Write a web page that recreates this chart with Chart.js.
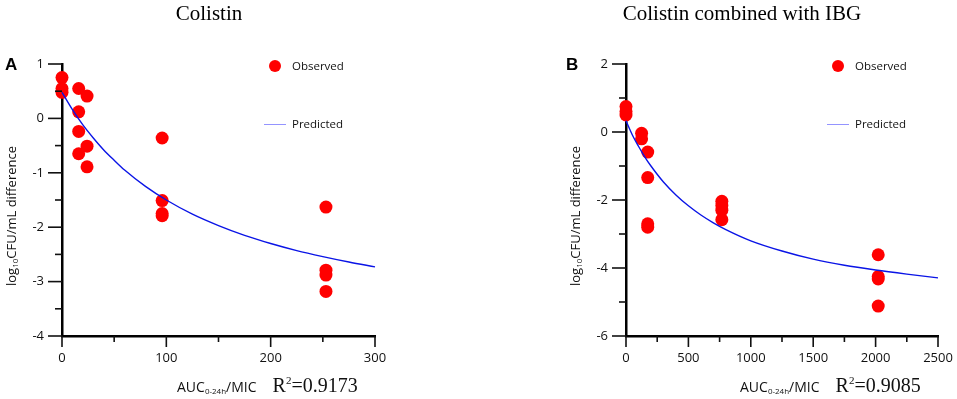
<!DOCTYPE html>
<html>
<head>
<meta charset="utf-8">
<script src="https://cdn.jsdelivr.net/npm/chart.js@4.4.1/dist/chart.umd.min.js"></script>
<style>
  body { margin: 0; background: #fff; width: 957px; height: 399px; overflow: hidden; position: relative; font-family: "Open Sans", sans-serif; }
  .panel { position: absolute; top: 0; width: 478px; height: 399px; }
  .title { position: absolute; top: 1px; font-family: "Liberation Serif", serif; font-size: 21px; color: #000; white-space: nowrap; transform: translateX(-50%); }
  .letter { position: absolute; top: 55px; font-family: Arial, "Liberation Sans", sans-serif; font-weight: bold; font-size: 17px; }
  .ytitle { position: absolute; font-size: 13px; color: #111; white-space: nowrap; transform: translate(-50%, -50%) rotate(-90deg); }
  .ytitle sub, .xtitle sub { font-size: 8px; vertical-align: -2px; }
  .xtitle { position: absolute; font-size: 14px; color: #111; white-space: nowrap; }
  .r2 { font-family: "Liberation Serif", serif; font-size: 20px; margin-left: 16px; }
  .r2 sup { font-size: 11px; vertical-align: 8px; }
  .leg { position: absolute; font-size: 11.5px; color: #111; white-space: nowrap; }
  .dot { position: absolute; width: 12px; height: 12px; border-radius: 50%; background: #ff0000; }
  .ln { position: absolute; width: 22px; height: 0; border-top: 1.5px solid rgba(90,90,255,0.65); }
</style>
</head>
<body>
<div class="panel" style="left:0"><canvas id="chartA" width="478" height="399"></canvas></div>
<div class="panel" style="left:478px"><canvas id="chartB" width="479" height="399"></canvas></div>

<div class="title" style="left:209px">Colistin</div>
<div class="title" style="left:742px">Colistin combined with IBG</div>
<div class="letter" style="left:5px">A</div>
<div class="letter" style="left:566px">B</div>

<div class="ytitle" style="left:11px; top:216px">log<sub>10</sub>CFU/mL difference</div>
<div class="ytitle" style="left:575px; top:216px">log<sub>10</sub>CFU/mL difference</div>

<div class="xtitle" style="left:177px; top:374px">AUC<sub>0-24h</sub>/MIC<span class="r2">R<sup>2</sup>=0.9173</span></div>
<div class="xtitle" style="left:740px; top:374px">AUC<sub>0-24h</sub>/MIC<span class="r2">R<sup>2</sup>=0.9085</span></div>

<div class="dot" style="left:269px; top:60px"></div>
<div class="leg" style="left:292px; top:58px">Observed</div>
<div class="ln" style="left:264px; top:124px"></div>
<div class="leg" style="left:292px; top:116px">Predicted</div>

<div class="dot" style="left:832px; top:60px"></div>
<div class="leg" style="left:855px; top:58px">Observed</div>
<div class="ln" style="left:827px; top:124px"></div>
<div class="leg" style="left:855px; top:116px">Predicted</div>

<script>
// Panel A: colistin
const obsA_x = [0, 0, 0, 16, 16, 16, 16, 24, 24, 24, 96, 96, 96, 96, 253, 253, 253, 253];
const obsA_y = [0.75, 0.55, 0.48, 0.55, 0.12, -0.24, -0.65, 0.41, -0.51, -0.89, -0.36, -1.51, -1.75, -1.79, -1.63, -2.79, -2.88, -3.18];
const predA_x = [0, 10, 20, 30, 40, 50, 60, 80, 100, 125, 150, 175, 200, 225, 250, 275, 300];
const predA_y = [0.48, 0.16, -0.12, -0.36, -0.58, -0.77, -0.95, -1.25, -1.5, -1.76, -1.97, -2.15, -2.3, -2.43, -2.54, -2.64, -2.73];

// Panel B: colistin + IBG
const obsB_x = [0, 0, 0, 125, 125, 174, 174, 174, 174, 768, 768, 768, 768, 2021, 2021, 2021, 2021];
const obsB_y = [0.75, 0.6, 0.5, -0.04, -0.2, -0.59, -1.34, -2.7, -2.8, -2.04, -2.16, -2.3, -2.58, -3.61, -4.25, -4.32, -5.12];
const predB_x = [0, 50, 100, 150, 200, 300, 400, 500, 600, 700, 800, 1000, 1250, 1500, 1750, 2000, 2250, 2500];
const predB_y = [0.33, -0.08, -0.42, -0.73, -1.0, -1.47, -1.85, -2.17, -2.44, -2.67, -2.87, -3.2, -3.5, -3.74, -3.92, -4.06, -4.18, -4.29];

const xTicksA = [0, 100, 200, 300];
const yTicksA = [-4, -3, -2, -1, 0, 1];
const xTicksB = [0, 500, 1000, 1500, 2000, 2500];
const yTicksB = [-6, -4, -2, 0, 2];

function pts(xs, ys) {
  return xs.map((x, i) => ({ x: x, y: ys[i] }));
}

// draws major/minor tick marks outside the axes
const tickMarks = {
  id: 'tickMarks',
  afterDraw(chart, args, opts) {
    const ctx = chart.ctx;
    const xs = chart.scales.x, ys = chart.scales.y;
    const a = chart.chartArea;
    ctx.save();
    ctx.strokeStyle = '#111';
    ctx.lineWidth = 1.6;
    ys.ticks.forEach(t => {
      const py = ys.getPixelForValue(t.value);
      const len = opts.yMajor.includes(t.value) ? 14 : 7;
      ctx.beginPath();
      ctx.moveTo(a.left - len, py);
      ctx.lineTo(a.left, py);
      ctx.stroke();
    });
    xs.ticks.forEach(t => {
      const px = xs.getPixelForValue(t.value);
      const len = opts.xMajor.includes(t.value) ? 11 : 6;
      ctx.beginPath();
      ctx.moveTo(px, a.bottom);
      ctx.lineTo(px, a.bottom + len);
      ctx.stroke();
    });
    ctx.restore();
  }
};

function makeChart(id, obs, pred, xMax, xStep, yMin, yMax, yStep, xMajor, yMajor, leftW, rightPad) {
  return new Chart(document.getElementById(id).getContext('2d'), {
    type: 'scatter',
    data: {
      datasets: [
        {
          label: 'Predicted',
          data: pred,
          showLine: true,
          borderColor: '#0a14e6',
          borderWidth: 1.4,
          pointRadius: 0,
          cubicInterpolationMode: 'monotone',
          clip: false
        },
        {
          label: 'Observed',
          data: obs,
          backgroundColor: '#ff0000',
          borderColor: '#ff0000',
          borderWidth: 0,
          pointRadius: 6.5,
          clip: false
        }
      ]
    },
    options: {
      responsive: false,
      animation: false,
      layout: { padding: { left: 0, top: 64, right: rightPad, bottom: 0 } },
      plugins: {
        legend: { display: false },
        tooltip: { enabled: false },
        tickMarks: { xMajor: xMajor, yMajor: yMajor }
      },
      scales: {
        x: {
          type: 'linear',
          min: 0,
          max: xMax,
          afterFit: s => { s.height = 63; s.paddingLeft = 0; s.paddingRight = 0; },
          afterBuildTicks: s => {
            s.ticks = [];
            for (let v = 0; v <= xMax; v += xStep) s.ticks.push({ value: v });
          },
          ticks: {
            padding: 14,
            maxRotation: 0,
            autoSkip: false,
            color: '#111',
            font: { family: 'Open Sans', size: 13 },
            callback: v => xMajor.includes(v) ? String(v) : ''
          },
          grid: { display: true, drawOnChartArea: false, drawTicks: false },
          border: { display: true, color: '#000', width: 2.5 }
        },
        y: {
          min: yMin,
          max: yMax,
          afterFit: s => { s.width = leftW; s.paddingTop = 0; s.paddingBottom = 0; },
          afterBuildTicks: s => {
            s.ticks = [];
            for (let v = yMin; v <= yMax + 1e-9; v += yStep) s.ticks.push({ value: Math.round(v * 10) / 10 });
          },
          ticks: {
            padding: 18,
            autoSkip: false,
            color: '#111',
            font: { family: 'Open Sans', size: 13 },
            callback: v => yMajor.includes(v) ? String(v) : ''
          },
          grid: { display: true, drawOnChartArea: false, drawTicks: false },
          border: { display: true, color: '#000', width: 2.5 }
        }
      }
    },
    plugins: [tickMarks]
  });
}

makeChart('chartA', pts(obsA_x, obsA_y), pts(predA_x, predA_y), 300, 50, -4, 1, 0.5, xTicksA, yTicksA, 62, 103);
makeChart('chartB', pts(obsB_x, obsB_y), pts(predB_x, predB_y), 2500, 250, -6, 2, 1, xTicksB, yTicksB, 148, 19);
</script>
</body>
</html>
